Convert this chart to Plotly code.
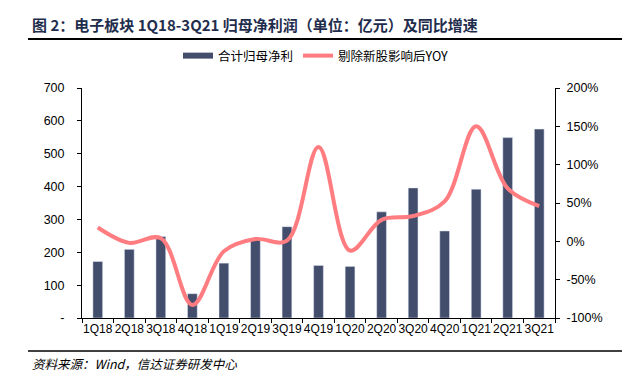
import plotly.graph_objects as go

quarters = ["1Q18", "2Q18", "3Q18", "4Q18", "1Q19", "2Q19", "3Q19", "4Q19",
            "1Q20", "2Q20", "3Q20", "4Q20", "1Q21", "2Q21", "3Q21"]
net_profit = [172, 209, 248, 74, 167, 238, 278, 160, 157, 323, 396, 265, 392, 549, 575]
yoy = [18, -2, 4, -83, -13, 3, 1, 123, -12, 28, 33, 52, 150, 69, 46]

left_ticks = [0, 100, 200, 300, 400, 500, 600, 700]
left_ticktext = ["-", "100", "200", "300", "400", "500", "600", "700"]
right_ticks = [-100, -50, 0, 50, 100, 150, 200]
right_ticktext = ["-100%", "-50%", "0%", "50%", "100%", "150%", "200%"]

BAR_COLOR = "#434E6D"
LINE_COLOR = "#FF7C80"
FONT = "Liberation Sans"
CJK = "Noto Sans CJK SC"

fig = go.Figure()
fig.add_trace(go.Bar(x=quarters, y=net_profit, marker_color=BAR_COLOR,
                     showlegend=False, yaxis="y"))
fig.add_trace(go.Scatter(x=quarters, y=yoy, mode="lines", yaxis="y2",
                         line=dict(color=LINE_COLOR, width=4, shape="spline", smoothing=1),
                         showlegend=False))
# legend entries
fig.add_trace(go.Scatter(x=[None], y=[None], mode="lines", name="合计归母净利",
                         line=dict(color=BAR_COLOR, width=6)))
fig.add_trace(go.Scatter(x=[None], y=[None], mode="lines", name="剔除新股影响后YOY",
                         line=dict(color=LINE_COLOR, width=4), yaxis="y2"))

W, H = 632, 375
L, R, T, B = 74, 547, 80, 310

def px(x):
    return (x - L) / (R - L)

def py(y):
    return (B - y) / (B - T)

fig.update_layout(
    width=W, height=H,
    margin=dict(l=L, r=W - R, t=T, b=H - B, pad=0),
    paper_bgcolor="white", plot_bgcolor="white",
    font=dict(family=FONT, size=12, color="#000000"),
    bargap=0.69,
    xaxis=dict(type="category", showline=True, linecolor="#000000", linewidth=1,
               ticks="outside", ticklen=4, tickcolor="#000000", tickson="boundaries",
               showgrid=False, tickangle=0, tickfont=dict(size=12, family=FONT)),
    yaxis=dict(range=[0, 700], tickmode="array", tickvals=left_ticks, ticktext=left_ticktext,
               showline=True, linecolor="#000000", linewidth=1, ticks="outside",
               ticklen=4, tickcolor="#000000", showgrid=False, zeroline=False,
               tickfont=dict(size=12.5, family=FONT), ticklabelstandoff=10),
    yaxis2=dict(range=[-100, 200], tickmode="array", tickvals=right_ticks,
                ticktext=right_ticktext,
                overlaying="y", side="right", showline=True, linecolor="#000000",
                linewidth=1, ticks="outside", ticklen=4, tickcolor="#000000",
                showgrid=False, zeroline=False, tickfont=dict(size=12.5, family=FONT),
                ticklabelstandoff=4),
    legend=dict(orientation="h", x=px(170), y=py(48), xanchor="left", yanchor="middle",
                font=dict(family=CJK, size=12.5, color="#000000"),
                bgcolor="rgba(0,0,0,0)", itemwidth=30, tracegroupgap=0),
    shapes=[
        dict(type="line", xref="paper", yref="paper", x0=px(20), x1=px(614),
             y0=py(31), y1=py(31), line=dict(color="#000000", width=2)),
        dict(type="line", xref="paper", yref="paper", x0=px(20), x1=px(614),
             y0=py(343), y1=py(343), line=dict(color="#000000", width=1.5)),
    ],
    annotations=[
        dict(text="<b>图 2：电子板块 1Q18-3Q21 归母净利润（单位：亿元）及同比增速</b>",
             xref="paper", yref="paper", x=px(22), y=py(16), xanchor="left",
             yanchor="middle", showarrow=False,
             font=dict(family=CJK, size=15, color="#1F2D4D")),
        dict(text="<i>资料来源：Wind，信达证券研发中心</i>",
             xref="paper", yref="paper", x=px(22), y=py(355), xanchor="left",
             yanchor="middle", showarrow=False,
             font=dict(family=CJK, size=12.5, color="#000000")),
    ],
)

fig.write_html("out.html")
